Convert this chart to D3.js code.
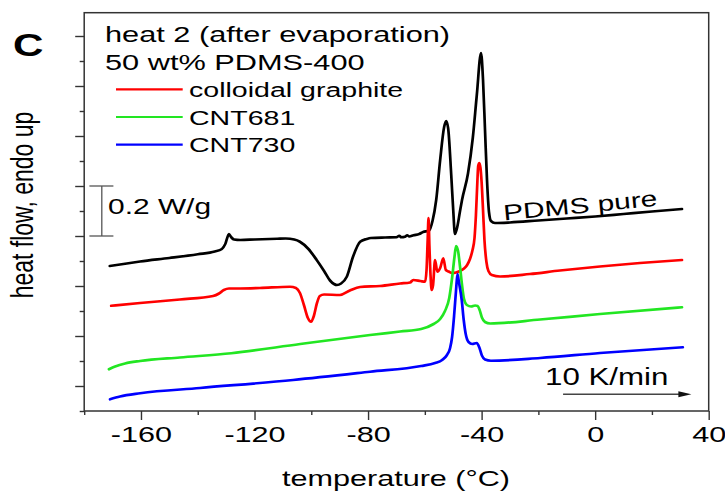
<!DOCTYPE html>
<html>
<head>
<meta charset="utf-8">
<script src="https://cdn.jsdelivr.net/npm/d3@7"></script>
<style>
  html, body { margin: 0; padding: 0; background: #fff; }
  svg { display: block; font-family: "Liberation Sans", Arial, Helvetica, sans-serif; }
</style>
</head>
<body>
<svg id="chart" width="725" height="491"></svg>
<script>
// DSC heat 2 traces: [temperature °C, heat flow W/g (curves offset vertically)]
const pdmsPure = [
  [-171.0, 0.580], [-165.0, 0.590], [-160.3, 0.598], [-150.0, 0.612], [-140.0, 0.627],
  [-134.0, 0.638], [-131.5, 0.648], [-130.3, 0.668], [-129.0, 0.708], [-128.2, 0.695],
  [-127.2, 0.686], [-125.0, 0.684], [-120.0, 0.686], [-112.0, 0.689], [-109.0, 0.690],
  [-106.0, 0.686], [-104.0, 0.677], [-101.0, 0.648], [-98.1, 0.604], [-95.5, 0.560],
  [-93.4, 0.522], [-92.0, 0.508], [-91.0, 0.504], [-89.5, 0.510], [-87.5, 0.537],
  [-85.3, 0.617], [-82.8, 0.677], [-80.5, 0.688], [-79.0, 0.692], [-74.0, 0.694],
  [-70.0, 0.695], [-69.0, 0.701], [-68.3, 0.695], [-67.0, 0.697], [-66.2, 0.703],
  [-65.5, 0.698], [-64.0, 0.703], [-62.0, 0.708], [-60.6, 0.716], [-58.5, 0.722],
  [-57.3, 0.760], [-56.0, 0.844], [-54.6, 1.004], [-53.2, 1.136], [-52.5, 1.160],
  [-51.8, 1.132], [-50.7, 0.944], [-50.0, 0.804], [-49.4, 0.708], [-48.6, 0.735],
  [-47.6, 0.800], [-46.9, 0.844], [-44.8, 0.950], [-43.1, 1.093], [-41.7, 1.263],
  [-40.2, 1.432], [-39.5, 1.324], [-38.8, 1.124], [-38.1, 0.924], [-37.4, 0.796],
  [-36.7, 0.760], [-35.3, 0.752], [-30.0, 0.754], [-20.0, 0.762], [-10.0, 0.770],
  [0.0, 0.778], [10.0, 0.788], [20.0, 0.798], [30.6, 0.808]
];

const colloidalGraphite = [
  [-170.5, 0.421], [-160.3, 0.432], [-146.3, 0.446], [-134.6, 0.460], [-132.5, 0.470],
  [-130.8, 0.484], [-129.0, 0.490], [-125.1, 0.490], [-118.1, 0.492], [-107.5, 0.497],
  [-105.4, 0.492], [-104.0, 0.472], [-102.6, 0.424], [-101.2, 0.372], [-100.1, 0.357],
  [-99.1, 0.380], [-98.0, 0.432], [-97.0, 0.460], [-95.5, 0.466], [-89.9, 0.464],
  [-86.4, 0.482], [-82.8, 0.496], [-75.8, 0.500], [-68.7, 0.510], [-65.2, 0.514],
  [-64.1, 0.524], [-61.6, 0.520], [-59.9, 0.517], [-59.4, 0.564], [-59.0, 0.684],
  [-58.7, 0.772], [-58.4, 0.664], [-58.0, 0.544], [-57.6, 0.484], [-57.1, 0.504],
  [-56.4, 0.604], [-55.6, 0.557], [-54.6, 0.572], [-53.5, 0.611], [-52.6, 0.564],
  [-51.6, 0.558], [-50.4, 0.552], [-49.0, 0.554], [-47.6, 0.560], [-46.2, 0.570],
  [-45.1, 0.584], [-44.1, 0.608], [-43.2, 0.644], [-42.5, 0.692], [-42.0, 0.784],
  [-41.5, 0.916], [-41.2, 0.980], [-40.8, 0.992], [-40.4, 0.972], [-40.0, 0.916],
  [-39.5, 0.804], [-39.0, 0.684], [-38.3, 0.596], [-37.6, 0.560], [-36.4, 0.544],
  [-33.5, 0.538], [-23.0, 0.548], [-12.4, 0.562], [1.7, 0.578], [15.8, 0.592],
  [30.6, 0.604]
];

const cnt681 = [
  [-171.3, 0.167], [-169.1, 0.178], [-165.6, 0.190], [-160.3, 0.200], [-146.3, 0.214],
  [-128.2, 0.231], [-103.9, 0.268], [-79.3, 0.304], [-68.7, 0.318], [-61.3, 0.328],
  [-56.9, 0.348], [-54.6, 0.368], [-52.9, 0.400], [-51.4, 0.452], [-50.4, 0.532],
  [-49.6, 0.612], [-49.0, 0.660], [-48.3, 0.640], [-47.6, 0.577], [-46.9, 0.504],
  [-46.2, 0.448], [-45.2, 0.424], [-43.7, 0.418], [-42.3, 0.422], [-41.4, 0.420],
  [-40.7, 0.404], [-39.9, 0.374], [-38.8, 0.356], [-37.0, 0.350], [-19.4, 0.366],
  [1.7, 0.388], [30.6, 0.415]
];

const cnt730 = [
  [-170.9, 0.047], [-167.4, 0.058], [-160.3, 0.071], [-139.2, 0.092], [-106.4, 0.124],
  [-79.3, 0.157], [-61.3, 0.180], [-56.4, 0.192], [-53.9, 0.204], [-52.2, 0.224],
  [-51.1, 0.252], [-50.4, 0.296], [-49.7, 0.380], [-49.0, 0.484], [-48.5, 0.548],
  [-48.0, 0.516], [-47.0, 0.444], [-46.3, 0.364], [-45.6, 0.308], [-44.6, 0.276],
  [-43.3, 0.268], [-41.7, 0.272], [-40.8, 0.254], [-39.9, 0.222], [-38.8, 0.206],
  [-36.7, 0.201], [-19.4, 0.212], [1.7, 0.232], [30.9, 0.255]
];

const xMajorTicks = [-160, -120, -80, -40, 0, 40];
const xMinorTicks = [-180, -140, -100, -60, -20, 20];
const yMajorTicks = [0.1, 0.3, 0.5, 0.7, 0.9, 1.1, 1.3, 1.5];
const yMinorTicks = [0.0, 0.2, 0.4, 0.6, 0.8, 1.0, 1.2, 1.4];

const legendNames = ["colloidal graphite", "CNT681", "CNT730"];
const legendColors = ["#ff0000", "#22e622", "#0000ff"];

// Scale bar (W/g) and heating-rate arrow, in data units
const scaleBar = { t: -173.8, from: 0.7, to: 0.9 };
const rateArrow = { from: -11.3, to: 33.9, at: 0.067 };

const SX = 1.36;           // horizontal text stretch
const AXIS = "#333";

const svg = d3.select("#chart");
const plotLeft = 84.2, plotRight = 708.7, plotTop = 12.7, plotBottom = 411;

const x = d3.scaleLinear().domain([-180, 40]).range([plotLeft, plotRight]);
const y = d3.scaleLinear().domain([0, (plotBottom - plotTop) / 250]).range([plotBottom, plotTop]);

function addText(x0, y0, str, size, extra) {
  const t = svg.append("text")
    .attr("transform", `translate(${x0},${y0}) scale(${SX},1)`)
    .attr("font-size", size)
    .attr("fill", "#000")
    .text(str);
  if (extra) extra(t);
  return t;
}

// Axes: bottom with labels, minor ticks, left ticks only
const gx = svg.append("g").attr("transform", `translate(0,${plotBottom})`)
  .call(d3.axisBottom(x).tickValues(xMajorTicks).tickSize(9).tickFormat(d => String(d)));
gx.select(".domain").remove();
gx.selectAll(".tick line").attr("stroke", AXIS).attr("stroke-width", 1.4);
gx.selectAll(".tick text")
  .attr("y", null).attr("dy", null)
  .attr("transform", `translate(0,31) scale(${SX},1)`)
  .attr("font-size", 22.5).attr("fill", "#000")
  .attr("font-family", '"Liberation Sans", Arial, sans-serif');

const gxm = svg.append("g").attr("transform", `translate(0,${plotBottom})`)
  .call(d3.axisBottom(x).tickValues(xMinorTicks).tickSize(4).tickFormat(""));
gxm.select(".domain").remove();
gxm.selectAll(".tick line").attr("stroke", AXIS).attr("stroke-width", 1.4);

const gy = svg.append("g").attr("transform", `translate(${plotLeft},0)`)
  .call(d3.axisLeft(y).tickValues(yMajorTicks).tickSize(9).tickFormat(""));
gy.select(".domain").remove();
gy.selectAll(".tick line").attr("stroke", AXIS).attr("stroke-width", 1.4);

const gym = svg.append("g").attr("transform", `translate(${plotLeft},0)`)
  .call(d3.axisLeft(y).tickValues(yMinorTicks).tickSize(4.5).tickFormat(""));
gym.select(".domain").remove();
gym.selectAll(".tick line").attr("stroke", AXIS).attr("stroke-width", 1.4);

// Frame
svg.append("rect")
  .attr("x", plotLeft).attr("y", plotTop)
  .attr("width", plotRight - plotLeft).attr("height", plotBottom - plotTop)
  .attr("fill", "none").attr("stroke", AXIS).attr("stroke-width", 1.5);

// Curves
const line = d3.line().x(d => x(d[0])).y(d => y(d[1])).curve(d3.curveMonotoneX);
const traces = [
  { data: pdmsPure, color: "#000000" },
  { data: colloidalGraphite, color: legendColors[0] },
  { data: cnt681, color: legendColors[1] },
  { data: cnt730, color: legendColors[2] }
];
svg.append("g").selectAll("path").data(traces).join("path")
  .attr("d", d => line(d.data))
  .attr("fill", "none")
  .attr("stroke", d => d.color)
  .attr("stroke-width", 2.7)
  .attr("stroke-linejoin", "round")
  .attr("stroke-linecap", "round");

// Panel letter and header
addText(13, 56, "C", 31, t => t.attr("font-weight", "bold"));
addText(105, 42, "heat 2 (after evaporation)", 22.6);
addText(105, 69.5, "50 wt% PDMS-400", 22.6);

// Legend
const legendY = [89.3, 117, 144.7];
legendNames.forEach((name, i) => {
  svg.append("line")
    .attr("x1", 116).attr("x2", 182.7)
    .attr("y1", legendY[i]).attr("y2", legendY[i])
    .attr("stroke", legendColors[i]).attr("stroke-width", 2.2);
  addText(189, legendY[i] + 7.6, name, 21);
});

// Scale bar
const sbx = x(scaleBar.t);
const sbg = svg.append("g").attr("stroke", "#555").attr("stroke-width", 1.3);
sbg.append("line").attr("x1", sbx).attr("x2", sbx).attr("y1", y(scaleBar.to)).attr("y2", y(scaleBar.from));
sbg.append("line").attr("x1", sbx - 12.4).attr("x2", sbx + 11.6).attr("y1", y(scaleBar.to)).attr("y2", y(scaleBar.to));
sbg.append("line").attr("x1", sbx - 12.4).attr("x2", sbx + 11.6).attr("y1", y(scaleBar.from)).attr("y2", y(scaleBar.from));
addText(108, 213.5, "0.2 W/g", 22);

// Curve label
svg.append("text")
  .attr("transform", `translate(504,220.5) rotate(-5.5) scale(${SX},1)`)
  .attr("font-size", 22).attr("fill", "#000")
  .text("PDMS pure");

// Heating rate annotation
addText(545, 385, "10 K/min", 23);
const ax1 = x(rateArrow.from), ax2 = x(rateArrow.to), ay = y(rateArrow.at);
svg.append("line")
  .attr("x1", ax1).attr("x2", ax2 - 10).attr("y1", ay).attr("y2", ay)
  .attr("stroke", "#444").attr("stroke-width", 1.3);
svg.append("path")
  .attr("d", `M${ax2},${ay} L${ax2 - 13},${ay - 3} L${ax2 - 13},${ay + 3} Z`)
  .attr("fill", "#111");

// Axis titles
svg.append("text")
  .attr("transform", `translate(396,486) scale(${SX},1)`)
  .attr("text-anchor", "middle")
  .attr("font-size", 22.5).attr("fill", "#000")
  .text("temperature (°C)");

svg.append("text")
  .attr("transform", `translate(33,205) rotate(-90) scale(1,${SX})`)
  .attr("text-anchor", "middle")
  .attr("font-size", 23).attr("fill", "#000")
  .text("heat flow, endo up");
</script>
</body>
</html>
